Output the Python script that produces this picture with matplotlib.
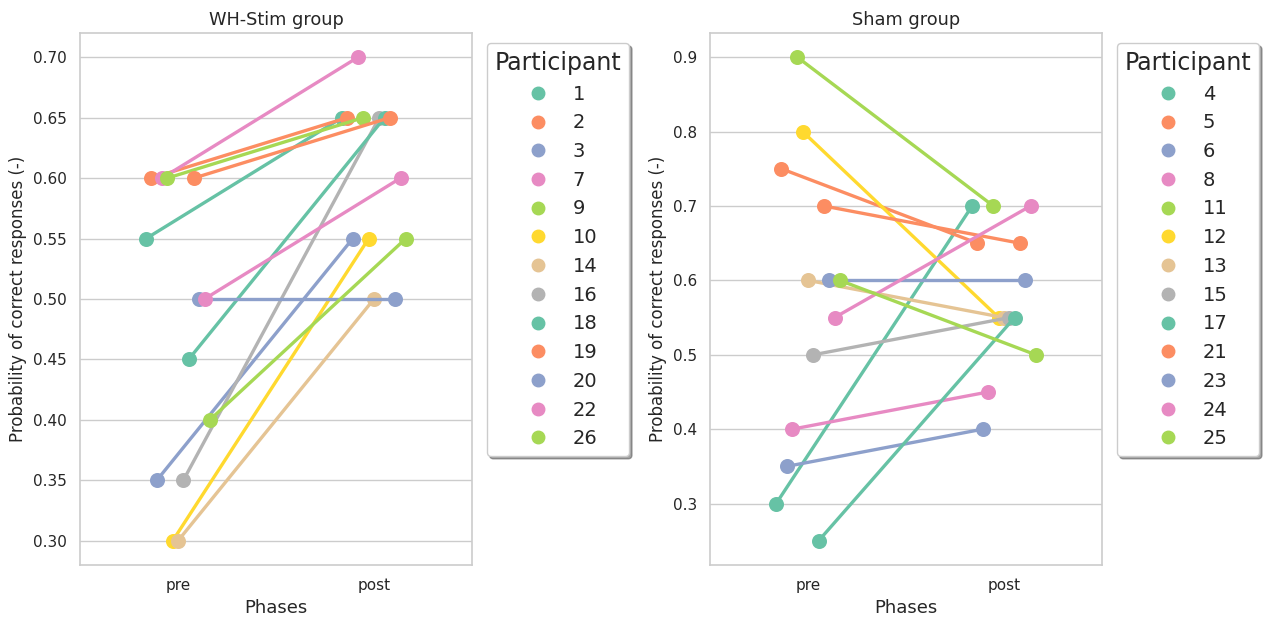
import numpy as np
import pandas as pd
import matplotlib
matplotlib.use("Agg")
import matplotlib.pyplot as plt
import seaborn as sns
from matplotlib.lines import Line2D

phases = ["pre", "post"]

# WH-Stim group
stim_ids = [1, 2, 3, 7, 9, 10, 14, 16, 18, 19, 20, 22, 26]
stim_pre = [0.55, 0.60, 0.35, 0.60, 0.60, 0.30, 0.30, 0.35, 0.45, 0.60, 0.50, 0.50, 0.40]
stim_post = [0.65, 0.65, 0.55, 0.70, 0.65, 0.55, 0.50, 0.65, 0.65, 0.65, 0.50, 0.60, 0.55]

# Sham group
sham_ids = [4, 5, 6, 8, 11, 12, 13, 15, 17, 21, 23, 24, 25]
sham_pre = [0.30, 0.75, 0.35, 0.40, 0.90, 0.80, 0.60, 0.50, 0.25, 0.70, 0.60, 0.55, 0.60]
sham_post = [0.70, 0.65, 0.40, 0.45, 0.70, 0.55, 0.55, 0.55, 0.55, 0.65, 0.60, 0.70, 0.50]


def long_df(ids, pre, post):
    rows = []
    for p, a, b in zip(ids, pre, post):
        rows.append({"Participant": str(p), "Phases": "pre", "val": a})
        rows.append({"Participant": str(p), "Phases": "post", "val": b})
    return pd.DataFrame(rows)


sns.set_theme(style="whitegrid")
plt.rcParams["font.family"] = ["DejaVu Sans"]

fig = plt.figure(figsize=(12.64, 6.18), dpi=100)
ax1 = fig.add_axes([0.0633, 0.0858, 0.3101, 0.8608])
ax2 = fig.add_axes([0.5617, 0.0858, 0.3101, 0.8608])

panels = [(ax1, "WH-Stim group", stim_ids, stim_pre, stim_post),
          (ax2, "Sham group", sham_ids, sham_pre, sham_post)]

for ax, title, ids, pre, post in panels:
    df = long_df(ids, pre, post)
    order = [str(i) for i in ids]
    pal = sns.color_palette("Set2", len(ids))
    sns.pointplot(data=df, x="Phases", y="val", hue="Participant", order=phases,
                  hue_order=order, palette=pal, dodge=True, ax=ax,
                  markersize=9, linewidth=2.4, errorbar=None)
    ax.set_title(title, fontsize=12.8)
    ax.set_xlabel("Phases", fontsize=13)
    ax.set_ylabel("Probability of correct responses (-)", fontsize=12)
    ax.tick_params(labelsize=11)
    ax.grid(axis="x", visible=False)
    for s in ax.spines.values():
        s.set_color("#cccccc")
        s.set_linewidth(1.2)
    handles = [Line2D([], [], marker="o", linestyle="", color=c, markersize=9) for c in pal]
    ax.legend(handles, order, title="Participant", loc="upper left",
              bbox_to_anchor=(1.038, 0.981), borderaxespad=0, fontsize=14,
              title_fontsize=17, shadow=True, framealpha=1)

fig.savefig("out.png", dpi=100)
